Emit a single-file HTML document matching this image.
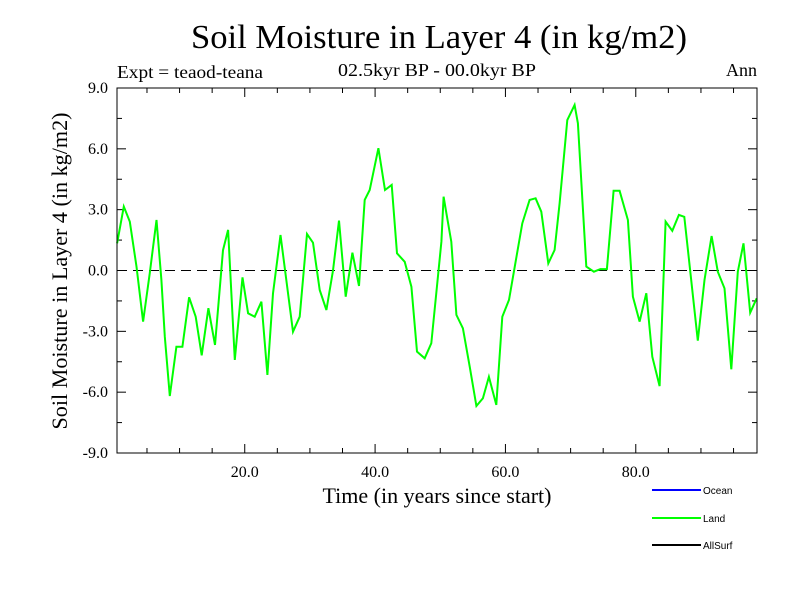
<!DOCTYPE html>
<html><head><meta charset="utf-8"><style>
body{margin:0;background:#fff;}
svg{display:block;font-family:"Liberation Serif",serif;}
</style></head><body>
<svg id="chart" width="800" height="600" viewBox="0 0 800 600">
<rect width="800" height="600" fill="#fff"/>
<text x="439" y="48" font-size="34" text-anchor="middle" textLength="496" lengthAdjust="spacingAndGlyphs">Soil Moisture in Layer 4 (in kg/m2)</text>
<text x="437" y="76" font-size="18" text-anchor="middle" textLength="198" lengthAdjust="spacingAndGlyphs">02.5kyr BP - 00.0kyr BP</text>
<text x="117" y="78" font-size="18" textLength="146" lengthAdjust="spacingAndGlyphs">Expt = teaod-teana</text>
<text x="757" y="76" font-size="18" text-anchor="end">Ann</text>
<text x="437" y="503" font-size="22" text-anchor="middle" textLength="229" lengthAdjust="spacingAndGlyphs">Time (in years since start)</text>
<text transform="translate(67,271) rotate(-90)" font-size="22" text-anchor="middle" textLength="317" lengthAdjust="spacingAndGlyphs">Soil Moisture in Layer 4 (in kg/m2)</text>
<g id="ticks"></g>
<line x1="117" y1="270.5" x2="757" y2="270.5" stroke="#000" stroke-width="1" stroke-dasharray="10,6"/>
<polyline id="land" fill="none" stroke="#00ff00" stroke-width="2"/>
<rect x="117" y="88" width="640" height="365" fill="none" stroke="#000" stroke-width="1"/>
<g font-family="Liberation Sans, sans-serif" font-size="10">
<line x1="652" y1="490" x2="701" y2="490" stroke="#0000ff" stroke-width="2"/>
<text x="703" y="494">Ocean</text>
<line x1="652" y1="518" x2="701" y2="518" stroke="#00ff00" stroke-width="2"/>
<text x="703" y="522">Land</text>
<line x1="652" y1="545" x2="701" y2="545" stroke="#000" stroke-width="2"/>
<text x="703" y="549">AllSurf</text>
</g>
</svg>
<script>
const years=[0.41,1.44,2.36,3.39,4.40,5.43,6.46,7.22,7.73,8.50,9.52,10.44,11.46,12.48,13.40,14.43,15.44,16.67,17.44,18.47,19.65,20.51,21.53,22.56,23.48,24.34,25.48,27.41,28.44,29.55,30.48,31.50,32.53,33.54,34.46,35.49,36.52,37.53,38.40,39.17,40.51,41.52,42.55,43.36,44.54,45.57,46.43,47.61,48.63,50.17,50.52,50.94,51.70,52.47,53.48,54.51,55.54,56.55,57.47,58.60,59.52,60.54,61.56,62.59,63.71,64.63,65.51,66.58,67.55,68.31,69.49,70.61,71.12,72.41,73.57,74.56,75.57,76.60,77.52,78.79,79.56,80.58,81.61,82.53,83.65,84.57,85.60,86.61,87.45,88.50,89.52,90.55,91.63,92.59,93.62,94.65,95.66,96.53,97.55,98.56];
const landValues=[1.34,3.15,2.41,0.19,-2.52,-0.12,2.49,-0.47,-3.26,-6.19,-3.76,-3.76,-1.32,-2.28,-4.18,-1.86,-3.67,1.0,2.0,-4.41,-0.34,-2.11,-2.28,-1.54,-5.15,-1.13,1.75,-3.02,-2.28,1.80,1.37,-0.96,-1.95,0,2.46,-1.29,0.88,-0.76,3.48,3.97,6.03,3.97,4.22,0.85,0.43,-0.80,-4.0,-4.33,-3.59,1.42,3.64,2.82,1.42,-2.19,-2.85,-4.74,-6.68,-6.30,-5.24,-6.63,-2.28,-1.45,0.43,2.33,3.48,3.56,2.90,0.35,1.01,3.31,7.42,8.16,7.26,0.19,-0.06,0.07,0.07,3.93,3.93,2.49,-1.29,-2.52,-1.12,-4.25,-5.70,2.41,1.96,2.74,2.65,-0.47,-3.46,-0.47,1.70,-0.06,-0.88,-4.87,-0.06,1.34,-2.08,-1.37];
const yTickValues=[-9,-6,-3,0,3,6,9];
const yTickLabels=["-9.0","-6.0","-3.0","0.0","3.0","6.0","9.0"];
const xTickValues=[20,40,60,80];
const xTickLabels=["20.0","40.0","60.0","80.0"];
const X0=117,X1=757,Y0=453,Y1=88,XMIN=0.4,XMAX=98.6,YMIN=-9,YMAX=9;
const sx=v=>X0+(v-XMIN)/(XMAX-XMIN)*(X1-X0);
const sy=v=>Y0-(v-YMIN)/(YMAX-YMIN)*(Y0-Y1);
const NS="http://www.w3.org/2000/svg";
const tg=document.getElementById('ticks');
function ln(x1,y1,x2,y2){const l=document.createElementNS(NS,'line');l.setAttribute('x1',x1);l.setAttribute('y1',y1);l.setAttribute('x2',x2);l.setAttribute('y2',y2);l.setAttribute('stroke','#000');


tg.appendChild(l);}
function tx(x,y,s,anchor,name){const t=document.createElementNS(NS,'text');t.setAttribute('x',x);t.setAttribute('y',y);t.setAttribute('font-size','16');t.setAttribute('text-anchor',anchor);t.textContent=s;


tg.appendChild(t);}
for(let v=-9;v<=9.001;v+=1.5){const y=sy(v);const major=Math.abs(v/3-Math.round(v/3))<1e-6;const L=major?9:5;ln(X0,y,X0+L,y);ln(X1-L,y,X1,y);}
yTickValues.forEach((v,i)=>tx(108,sy(v)+5,yTickLabels[i],'end','y-tick-label'));
for(let v=5;v<=95;v+=5){const x=sx(v);const major=v%20===0;const L=major?9:5;ln(x,Y0,x,Y0-L);ln(x,Y1,x,Y1+L);}
xTickValues.forEach((v,i)=>tx(sx(v),477,xTickLabels[i],'middle','x-tick-label'));
document.getElementById('land').setAttribute('points',years.map((t,i)=>sx(t).toFixed(1)+','+sy(landValues[i]).toFixed(1)).join(' '));
</script>
</body></html>
